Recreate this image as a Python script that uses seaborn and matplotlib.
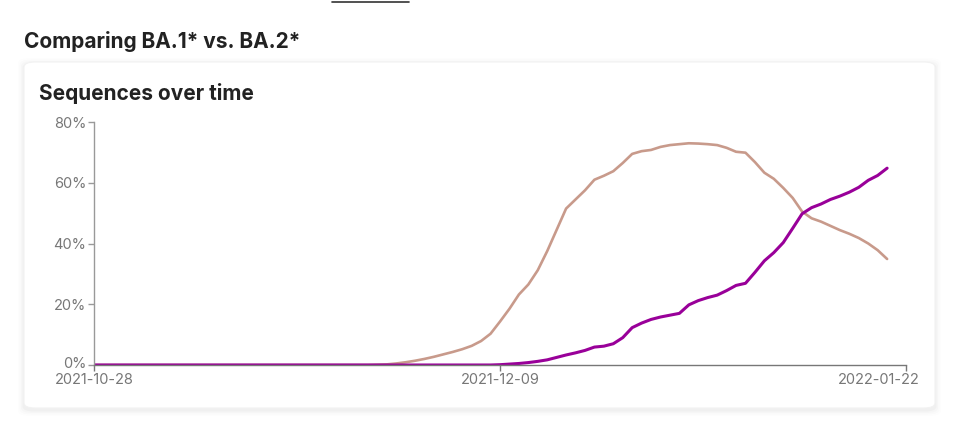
import numpy as np
import pandas as pd
import matplotlib
matplotlib.use("Agg")
import matplotlib.pyplot as plt
import matplotlib.transforms as mtransforms
from matplotlib.patches import FancyBboxPatch
from matplotlib.lines import Line2D
import seaborn as sns

# values (share of sequences, %), one per day from 2021-10-28
ba1_share = [0.0] * 30 + [
    0.1, 0.2, 0.5, 0.9, 1.4, 2.0, 2.7, 3.5, 4.3, 5.2,
    6.3, 7.9, 10.3, 14.3, 18.5, 23.2, 26.5, 31.2, 37.5, 44.5,
    51.5, 54.5, 57.5, 61.0, 62.3, 63.8, 66.5, 69.5, 70.4, 70.8,
    71.8, 72.4, 72.7, 73.0, 72.9, 72.7, 72.4, 71.5, 70.2, 69.9,
    66.8, 63.3, 61.3, 58.3, 55.0, 50.5, 48.3, 47.2, 45.8, 44.4,
    43.2, 41.8, 40.0, 37.8, 34.9]
ba2_share = [0.0] * 43 + [
    0.1, 0.3, 0.5, 0.8, 1.2, 1.7, 2.5,
    3.3, 4.0, 4.8, 5.9, 6.2, 7.0, 9.0, 12.3, 13.8, 15.0,
    15.8, 16.4, 17.0, 19.8, 21.2, 22.2, 23.0, 24.5, 26.2, 26.9,
    30.5, 34.3, 37.0, 40.3, 45.0, 49.8, 51.8, 53.0, 54.5, 55.6,
    56.9, 58.5, 60.8, 62.4, 64.8]
days = list(range(len(ba1_share)))
x_ticks = [0, 43, 86]
x_labels = ["2021-10-28", "2021-12-09", "2022-01-22"]
y_ticks = [0, 20, 40, 60, 80]

df = pd.DataFrame({
    "day": days + days,
    "share": ba1_share + ba2_share,
    "variant": ["BA.1*"] * len(days) + ["BA.2*"] * len(days),
})

sns.set_theme(style="white")
plt.rcParams["font.family"] = ["Inter", "DejaVu Sans"]

fig = plt.figure(figsize=(9.58, 4.25), dpi=100)
fig.patch.set_facecolor("white")
W, H = 958, 425

def fx(px):
    return px / W

def fy(py):
    return 1 - py / H

# card with a soft shadow, mostly below it
for i, a in enumerate([0.022, 0.016, 0.011, 0.007]):
    g = (i + 1) * 1.5
    fig.patches.append(FancyBboxPatch(
        (fx(24 - g), fy(408 + g + 2)), fx(911 + 2 * g), (408 - 62 + 2 * g) / H,
        boxstyle="round,pad=0,rounding_size=0.012", transform=fig.transFigure,
        facecolor="black", edgecolor="none", alpha=a, zorder=0))
card = FancyBboxPatch((fx(24), fy(408)), fx(911), (408 - 62) / H,
                      boxstyle="round,pad=0,rounding_size=0.012", transform=fig.transFigure,
                      facecolor="white", edgecolor="#f2f2f2", linewidth=0.8, zorder=1)
fig.patches.append(card)

# small underline at the top
fig.lines.append(Line2D([fx(332), fx(409)], [fy(2), fy(2)], transform=fig.transFigure,
                        color="#333333", linewidth=1.2))

fig.text(fx(24), fy(42), "Comparing BA.1* vs. BA.2*", fontsize=15, fontweight="bold",
         color="#222222", va="center", ha="left")
fig.text(fx(39), fy(93), "Sequences over time", fontsize=15, fontweight="bold",
         color="#222222", va="center", ha="left")

ax = fig.add_axes([fx(94), fy(365), fx(812), (365 - 122) / H])
ax.patch.set_alpha(0)
ax.set_zorder(2)

sns.lineplot(data=df, x="day", y="share", hue="variant",
             palette={"BA.1*": "#c89a8b", "BA.2*": "#990099"},
             linewidth=2.0, ax=ax, legend=False)
for line, lw in zip(ax.get_lines(), [1.9, 2.2]):
    line.set_linewidth(lw)

ax.set_xlim(0, 86)
ax.set_ylim(0, 80)
ax.set_xticks(x_ticks)
ax.set_xticklabels(x_labels)
ax.set_yticks(y_ticks)
ax.set_yticklabels([f"{v}%" for v in y_ticks])
ax.set_xlabel("")
ax.set_ylabel("")

for s in ["top", "right"]:
    ax.spines[s].set_visible(False)
ax.spines["left"].set_color("#999999")
ax.spines["bottom"].set_color("#777777")
ax.spines["left"].set_linewidth(1.0)
ax.spines["bottom"].set_linewidth(1.0)
ax.tick_params(axis="y", length=4, width=1, color="#999999", labelcolor="#777777",
               labelsize=10.5, pad=1.5, left=True)
ax.tick_params(axis="x", length=4, width=1, color="#777777", labelcolor="#777777",
               labelsize=10.5, pad=1.5, bottom=True)
ax.grid(False)

# keep "0%" clear of the first date label
ax.get_yticklabels()[0].set_transform(
    ax.get_yticklabels()[0].get_transform() + mtransforms.ScaledTranslation(0, 2 / 100, fig.dpi_scale_trans))

# last date label sits left of its tick
last = ax.get_xticklabels()[-1]
last.set_transform(last.get_transform() + mtransforms.ScaledTranslation(-27 / 100, 0, fig.dpi_scale_trans))

fig.savefig("out.png", dpi=100, facecolor="white")
